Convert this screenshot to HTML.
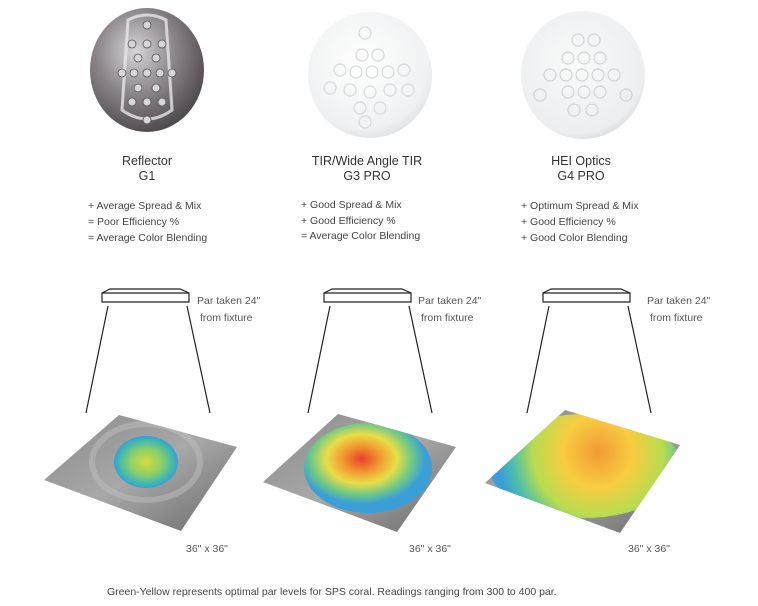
<!DOCTYPE html>
<html><head><meta charset="utf-8"><style>
body{margin:0;background:#fff;}
svg{display:block;font-family:"Liberation Sans",sans-serif;}
</style></head><body>
<svg width="758" height="606" viewBox="0 0 758 606" xmlns="http://www.w3.org/2000/svg">
<defs>
<radialGradient id="metal" cx="40%" cy="35%" r="70%">
<stop offset="0" stop-color="#d8d4d8"/><stop offset="0.5" stop-color="#8a8488"/><stop offset="1" stop-color="#4a4448"/></radialGradient>
<radialGradient id="white1" cx="45%" cy="40%" r="65%">
<stop offset="0" stop-color="#ffffff"/><stop offset="0.8" stop-color="#f0f1f2"/><stop offset="1" stop-color="#dcdee0"/></radialGradient>
<radialGradient id="white2" cx="45%" cy="40%" r="65%">
<stop offset="0" stop-color="#fafafa"/><stop offset="0.85" stop-color="#eceeef"/><stop offset="1" stop-color="#d4d6d8"/></radialGradient>
<linearGradient id="gray" x1="0" y1="0" x2="1" y2="1">
<stop offset="0" stop-color="#8a8a8a"/><stop offset="0.5" stop-color="#a8a8a8"/><stop offset="1" stop-color="#6a6a6a"/></linearGradient>
<radialGradient id="h1"><stop offset="0" stop-color="#d6dc3c"/><stop offset="0.5" stop-color="#8ccf6a"/><stop offset="0.85" stop-color="#3fb8b0"/><stop offset="1" stop-color="#3a9ed8"/></radialGradient>
<radialGradient id="h2" cx="45%" cy="40%"><stop offset="0" stop-color="#e8402a"/><stop offset="0.3" stop-color="#f29a30"/><stop offset="0.55" stop-color="#e8de48"/><stop offset="0.8" stop-color="#6cc888"/><stop offset="1" stop-color="#3a9ed8"/></radialGradient>
<radialGradient id="h3" gradientUnits="userSpaceOnUse" cx="598" cy="452" r="100"><stop offset="0" stop-color="#f29a38"/><stop offset="0.35" stop-color="#f8cc40"/><stop offset="0.65" stop-color="#b8dc50"/><stop offset="0.85" stop-color="#50c0a8"/><stop offset="1" stop-color="#3a9ed8"/></radialGradient>
<clipPath id="q1"><polygon points="119,415 237,447 181,531 44,480"/></clipPath>
<clipPath id="q2"><polygon points="338,414 456,447 397,532 263,482"/></clipPath>
<clipPath id="q3"><polygon points="565,410 680,445 620,533 485,483"/></clipPath>
</defs>

<!-- discs -->
<ellipse cx="147" cy="70" rx="57" ry="62" fill="url(#metal)"/>
<path d="M128 20 Q147 10 166 20 L172 110 Q147 128 122 110 Z" fill="none" stroke="#e8e6e8" stroke-width="3" opacity="0.8"/>
<g fill="#d8d6da" stroke="#555" stroke-width="0.8">
<circle cx="132" cy="44" r="4"/><circle cx="147" cy="44" r="4"/><circle cx="162" cy="44" r="4"/>
<circle cx="138" cy="58" r="4"/><circle cx="156" cy="58" r="4"/>
<circle cx="122" cy="73" r="4"/><circle cx="134" cy="73" r="4"/><circle cx="147" cy="73" r="4"/><circle cx="160" cy="73" r="4"/><circle cx="172" cy="73" r="4"/>
<circle cx="138" cy="88" r="4"/><circle cx="156" cy="88" r="4"/>
<circle cx="132" cy="102" r="4"/><circle cx="147" cy="102" r="4"/><circle cx="162" cy="102" r="4"/>
<circle cx="147" cy="120" r="4"/><circle cx="147" cy="25" r="4"/>
</g>
<ellipse cx="370" cy="75" rx="62" ry="63" fill="url(#white1)"/>
<g fill="none" stroke="#d6d8da" stroke-width="1.2">
<circle cx="362" cy="55" r="6"/><circle cx="378" cy="55" r="6"/><circle cx="340" cy="70" r="6"/><circle cx="356" cy="72" r="6"/><circle cx="372" cy="72" r="6"/><circle cx="388" cy="72" r="6"/><circle cx="404" cy="70" r="6"/>
<circle cx="350" cy="90" r="6"/><circle cx="370" cy="92" r="6"/><circle cx="390" cy="90" r="6"/><circle cx="360" cy="108" r="6"/><circle cx="380" cy="108" r="6"/><circle cx="365" cy="122" r="6"/><circle cx="365" cy="33" r="6"/><circle cx="330" cy="88" r="6"/><circle cx="408" cy="90" r="6"/>
</g>
<ellipse cx="583" cy="75" rx="62" ry="64" fill="url(#white2)"/>
<g fill="none" stroke="#cfd2d4" stroke-width="1.2">
<circle cx="578" cy="40" r="6"/><circle cx="594" cy="40" r="6"/><circle cx="568" cy="58" r="6"/><circle cx="584" cy="58" r="6"/><circle cx="600" cy="58" r="6"/>
<circle cx="550" cy="75" r="6"/><circle cx="566" cy="75" r="6"/><circle cx="582" cy="75" r="6"/><circle cx="598" cy="75" r="6"/><circle cx="614" cy="75" r="6"/>
<circle cx="568" cy="92" r="6"/><circle cx="584" cy="92" r="6"/><circle cx="600" cy="92" r="6"/><circle cx="574" cy="110" r="6"/><circle cx="592" cy="110" r="6"/><circle cx="540" cy="95" r="6"/><circle cx="626" cy="95" r="6"/>
</g>

<g fill="#333" font-size="12.5" text-anchor="middle">
<text x="147" y="165">Reflector</text><text x="147" y="180">G1</text>
<text x="367" y="165">TIR/Wide Angle TIR</text><text x="367" y="180">G3 PRO</text>
<text x="581" y="165">HEI Optics</text><text x="581" y="180">G4 PRO</text>
</g>
<g fill="#444" font-size="10.5">
<text x="88" y="209">+ Average Spread &amp; Mix</text><text x="88" y="225">= Poor Efficiency %</text><text x="88" y="241">= Average Color Blending</text>
<text x="301" y="208">+ Good Spread &amp; Mix</text><text x="301" y="224">+ Good Efficiency %</text><text x="301" y="239">= Average Color Blending</text>
<text x="521" y="209">+ Optimum Spread &amp; Mix</text><text x="521" y="225">+ Good Efficiency %</text><text x="521" y="241">+ Good Color Blending</text>
</g>

<!-- fixtures -->
<g fill="#fff" stroke="#222" stroke-width="1.2">
<path d="M102 293 L110 289 L180 289 L189 293 L189 302 L102 302 Z"/><line x1="102" y1="293" x2="189" y2="293"/>
<path d="M324 293 L332 289 L402 289 L411 293 L411 302 L324 302 Z"/><line x1="324" y1="293" x2="411" y2="293"/>
<path d="M543 293 L551 289 L621 289 L630 293 L630 302 L543 302 Z"/><line x1="543" y1="293" x2="630" y2="293"/>
</g>
<g stroke="#222" stroke-width="1.2">
<line x1="108" y1="306" x2="86" y2="413"/><line x1="187" y1="306" x2="210" y2="413"/>
<line x1="330" y1="306" x2="308" y2="413"/><line x1="409" y1="306" x2="432" y2="413"/>
<line x1="549" y1="306" x2="527" y2="413"/><line x1="628" y1="306" x2="651" y2="413"/>
</g>
<g fill="#555" font-size="10.5">
<text x="197" y="304">Par taken 24"</text><text x="200" y="321">from fixture</text>
<text x="418" y="304">Par taken 24"</text><text x="421" y="321">from fixture</text>
<text x="647" y="304">Par taken 24"</text><text x="650" y="321">from fixture</text>
<text x="186" y="552">36" x 36"</text><text x="409" y="552">36" x 36"</text><text x="628" y="552">36" x 36"</text>
</g>

<!-- heat maps -->
<polygon points="119,415 237,447 181,531 44,480" fill="url(#gray)"/>
<g clip-path="url(#q1)">
<ellipse cx="146" cy="462" rx="54" ry="38" fill="none" stroke="#bdbdbd" stroke-width="6" opacity="0.5"/>
</g>
<ellipse cx="146" cy="462" rx="32" ry="26" fill="url(#h1)"/>
<polygon points="338,414 456,447 397,532 263,482" fill="url(#gray)"/>
<ellipse cx="368" cy="468" rx="64" ry="45" fill="url(#h2)" clip-path="url(#q2)"/>
<polygon points="565,410 680,445 620,533 485,483" fill="url(#gray)"/>
<ellipse cx="585" cy="466" rx="96" ry="52" fill="url(#h3)" clip-path="url(#q3)"/>

<text x="107" y="595" font-size="10.5" fill="#444">Green-Yellow represents optimal par levels for SPS coral.  Readings ranging from 300 to 400 par.</text>
</svg>
</body></html>
